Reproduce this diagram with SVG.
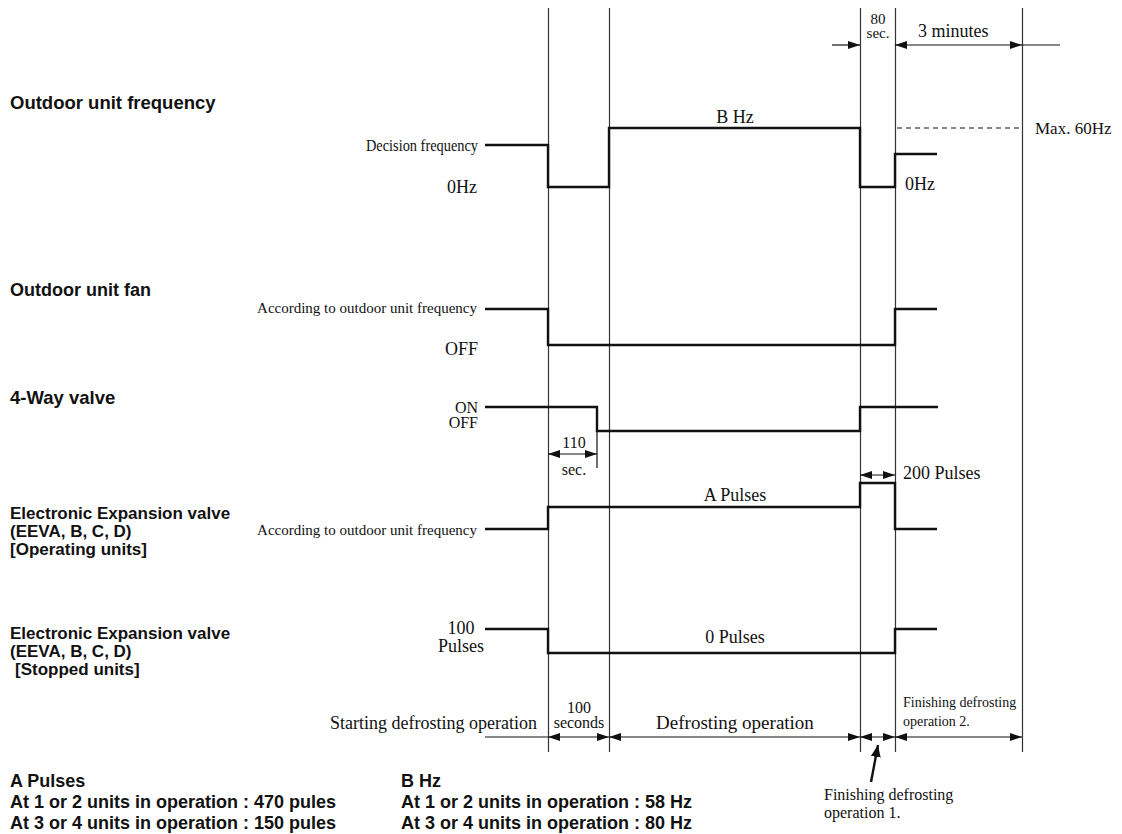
<svg xmlns="http://www.w3.org/2000/svg" width="1122" height="834" viewBox="0 0 1122 834">
<defs>
<style>
.bg{fill:#fff}
.grid{stroke:#333;stroke-width:1.2;fill:none}
.wave{stroke:#111;stroke-width:2.4;fill:none}
.thin{stroke:#111;stroke-width:1.2;fill:none}
.dash{stroke:#111;stroke-width:1.2;fill:none;stroke-dasharray:5,4}
.dim{stroke:#111;stroke-width:1.2;fill:none}
.lead{stroke:#111;stroke-width:2.4;fill:none}
.t{font-family:"Liberation Serif","Times New Roman",serif;font-size:18px;fill:#111}
.ts{font-family:"Liberation Serif","Times New Roman",serif;font-size:16px;fill:#111}
.tx{font-family:"Liberation Serif","Times New Roman",serif;font-size:15px;fill:#111}
.b{font-family:"Liberation Sans",Arial,sans-serif;font-size:17px;font-weight:bold;fill:#111}
.bb{font-family:"Liberation Sans",Arial,sans-serif;font-size:18px;font-weight:bold;fill:#111}
.r{text-anchor:end}
.m{text-anchor:middle}
</style>
<marker id="ah" viewBox="0 0 12 8" refX="12" refY="4" markerWidth="12" markerHeight="8" markerUnits="userSpaceOnUse" orient="auto-start-reverse">
<path d="M0,0 L12,4 L0,8 Z" fill="#111"/>
</marker>
<marker id="ahl" viewBox="0 0 12 10" refX="12" refY="5" markerWidth="12" markerHeight="10" markerUnits="userSpaceOnUse" orient="auto">
<path d="M0,0 L12,5 L0,10 Z" fill="#111"/>
</marker>
</defs>
<rect class="bg" x="0" y="0" width="1122" height="834"/>

<g id="grid">
<line class="grid" x1="548.5" y1="8" x2="548.5" y2="752"/>
<line class="grid" x1="609.5" y1="8" x2="609.5" y2="752"/>
<line class="grid" x1="860.5" y1="8" x2="860.5" y2="752"/>
<line class="grid" x1="895.5" y1="8" x2="895.5" y2="752"/>
<line class="grid" x1="1022.5" y1="8" x2="1022.5" y2="752"/>
</g>

<g id="row-frequency">
<text class="b" x="10" y="109" style="font-size:18.5px">Outdoor unit frequency</text>
<text class="t r" x="478" y="151" style="font-size:17px" textLength="112" lengthAdjust="spacingAndGlyphs">Decision frequency</text>
<text class="t r" x="477" y="193">0Hz</text>
<text class="t m" x="735" y="123">B Hz</text>
<text class="t" x="905" y="190">0Hz</text>
<text class="t" x="1035" y="134" style="font-size:17px">Max. 60Hz</text>
<polyline class="wave" points="485,145 548,145 548,187 609,187 609,128 860,128 860,187 895,187 895,154 937,154"/>
<line class="dash" x1="897" y1="128" x2="1020" y2="128"/>
</g>

<g id="row-fan">
<text class="b" x="10" y="296" style="font-size:18px">Outdoor unit fan</text>
<text class="tx r" x="477" y="313">According to outdoor unit frequency</text>
<text class="t r" x="478" y="355">OFF</text>
<polyline class="wave" points="485,309 548,309 548,345 895,345 895,309 937,309"/>
</g>

<g id="row-4way">
<text class="b" x="10" y="404" style="font-size:18.5px">4-Way valve</text>
<text class="ts r" x="478" y="413">ON</text>
<text class="ts r" x="478" y="428">OFF</text>
<polyline class="wave" points="485,407 597,407 597,431 860,431 860,407 938,407"/>
<line class="thin" x1="597" y1="431" x2="597" y2="468"/>
<text class="ts m" x="574" y="448">110</text>
<text class="ts m" x="574" y="475">sec.</text>
</g>

<g id="row-eev-operating">
<text class="b" x="10" y="519">Electronic Expansion valve</text>
<text class="b" x="10" y="537">(EEVA, B, C, D)</text>
<text class="b" x="10" y="555">[Operating units]</text>
<text class="tx r" x="477" y="535">According to outdoor unit frequency</text>
<text class="t m" x="735" y="501">A Pulses</text>
<text class="t" x="903" y="479">200 Pulses</text>
<polyline class="wave" points="485,529 548,529 548,507 860,507 860,483 895,483 895,529 937,529"/>
</g>

<g id="row-eev-stopped">
<text class="b" x="10" y="639">Electronic Expansion valve</text>
<text class="b" x="10" y="657">(EEVA, B, C, D)</text>
<text class="b" x="15" y="675">[Stopped units]</text>
<text class="t m" x="461" y="634">100</text>
<text class="t m" x="461" y="652">Pulses</text>
<text class="t m" x="735" y="643">0 Pulses</text>
<polyline class="wave" points="485,629 548,629 548,653 895,653 895,629 937,629"/>
</g>

<g id="timeline">
<text class="t r" x="537" y="729">Starting defrosting operation</text>
<text class="ts m" x="579" y="713">100</text>
<text class="ts m" x="579" y="728">seconds</text>
<text class="t m" x="735" y="729" style="font-size:19px">Defrosting operation</text>
<text class="tx" x="903" y="707" style="font-size:14px">Finishing defrosting</text>
<text class="tx" x="903" y="726" style="font-size:14px">operation 2.</text>
<text class="ts m" x="878" y="24" style="font-size:15px">80</text>
<text class="ts m" x="878" y="38" style="font-size:15px">sec.</text>
<text class="t" x="918" y="37">3 minutes</text>
<text class="ts" x="824" y="800">Finishing defrosting</text>
<text class="ts" x="824" y="818">operation 1.</text>
</g>

<g id="connectors">
<line class="dim" x1="832" y1="45" x2="860" y2="45" marker-end="url(#ah)"/>
<line class="dim" x1="895" y1="45" x2="1022" y2="45" marker-start="url(#ah)" marker-end="url(#ah)"/>
<line class="dim" x1="1022" y1="45" x2="1060" y2="45"/>
<line class="dim" x1="548" y1="454" x2="597" y2="454" marker-start="url(#ah)" marker-end="url(#ah)"/>
<line class="dim" x1="860" y1="475" x2="895" y2="475" marker-start="url(#ah)" marker-end="url(#ah)"/>
<line class="dim" x1="485" y1="737" x2="548" y2="737"/>
<line class="dim" x1="548" y1="737" x2="609" y2="737" marker-start="url(#ah)" marker-end="url(#ah)"/>
<line class="dim" x1="609" y1="737" x2="860" y2="737" marker-start="url(#ah)" marker-end="url(#ah)"/>
<line class="dim" x1="860" y1="737" x2="895" y2="737" marker-start="url(#ah)" marker-end="url(#ah)"/>
<line class="dim" x1="895" y1="737" x2="1022" y2="737" marker-start="url(#ah)" marker-end="url(#ah)"/>
<line class="lead" x1="871" y1="782" x2="878" y2="745" marker-end="url(#ahl)"/>
</g>

<g id="notes">
<text class="bb" x="10" y="787">A Pulses</text>
<text class="bb" x="10" y="808">At 1 or 2 units in operation : 470 pules</text>
<text class="bb" x="10" y="829">At 3 or 4 units in operation : 150 pules</text>
<text class="bb" x="401" y="787">B Hz</text>
<text class="bb" x="401" y="808">At 1 or 2 units in operation : 58 Hz</text>
<text class="bb" x="401" y="829">At 3 or 4 units in operation : 80 Hz</text>
</g>
</svg>
